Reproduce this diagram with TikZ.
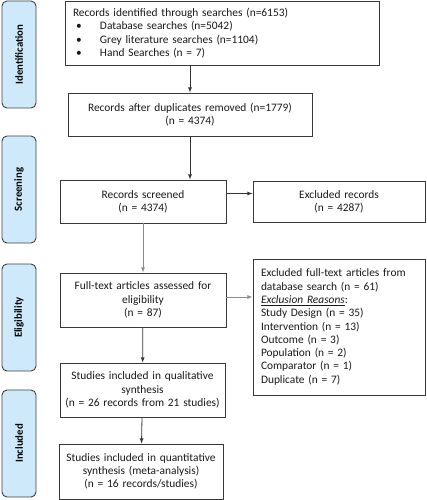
\documentclass[tikz,border=0pt]{standalone}
\usepackage{fontspec}
\setmainfont{Carlito}
\usetikzlibrary{positioning}
\definecolor{stagefill}{RGB}{205,233,250}
\tikzset{
  bx/.style={draw=black!78,line width=0.9pt,fill=white,align=center,inner xsep=4pt,inner ysep=2pt,text=black!90,font=\fontsize{11.4}{13.3}\selectfont},
  stage/.style={draw=black!75,line width=0.9pt,fill=stagefill,rounded corners=5pt,minimum width=107pt,minimum height=34pt,rotate=90,inner sep=0pt,font=\bfseries\fontsize{10.8}{12}\selectfont},
  ar/.style={->,>=latex,line width=0.8pt,draw=black!80},
  gar/.style={ar,draw=black!45}
}
\begin{document}
\begin{tikzpicture}[x=1pt,y=-1pt]
  \useasboundingbox (0,0) rectangle (427,500);
  \node[stage] (sI) at (19,54.5) {Identification};
  \node[stage] (sS) at (19,189.5) {Screening};
  \node[stage] (sE) at (19,317.5) {Eligibility};
  \node[stage] (sN) at (19,443.5) {Included};

  \node[bx,align=left,inner xsep=8pt,text width=298pt,minimum height=64pt] (b1) at (222,33) {Records identified through searches (n=6153)\\
    \hspace*{3pt}\makebox[24pt][l]{\textbullet}Database searches (n=5042)\\
    \hspace*{3pt}\makebox[24pt][l]{\textbullet}Grey literature searches (n=1104)\\
    \hspace*{3pt}\makebox[24pt][l]{\textbullet}Hand Searches (n = 7)};
  \node[bx,text width=236pt,minimum height=43pt] (b2) at (190,114.5) {Records after duplicates removed (n=1779)\\(n = 4374)};
  \node[bx,text width=158pt,minimum height=43pt] (b3) at (143,201.5) {Records screened\\(n = 4374)};
  \node[bx,text width=164pt,minimum height=41pt] (b4) at (339,201.5) {Excluded records\\(n = 4287)};
  \node[bx,text width=158pt,minimum height=54pt] (b5) at (143,300) {Full-text articles assessed for\\eligibility\\(n = 87)};
  \node[bx,align=left,inner xsep=8pt,text width=156pt,minimum height=136pt] (b6) at (339,327) {Excluded full-text articles from\\database search (n = 61)\\\underline{\textit{Exclusion Reasons}}:\\Study Design (n = 35)\\Intervention (n = 13)\\Outcome (n = 3)\\Population (n = 2)\\Comparator (n = 1)\\Duplicate (n = 7)};
  \node[bx,text width=157pt,minimum height=54pt] (b7) at (142.5,390) {Studies included in qualitative\\synthesis\\(n = 26 records from 21 studies)};
  \node[bx,text width=156pt,minimum height=55pt] (b8) at (141,471.5) {Studies included in quantitative\\synthesis (meta-analysis)\\(n = 16 records/studies)};

  \draw[ar] (b1.south -| b2) -- (b2);
  \draw[ar] (b2) -- (b2 |- b3.north);
  \draw[ar] ([yshift=8pt]b3.east) -- ([yshift=8pt]b4.west);
  \draw[gar] (b3) -- (b5);
  \draw[gar] ([yshift=3pt]b5.east) -- ([yshift=3pt]b5.east -| b6.west);
  \draw[ar] (b5) -- (b7);
  \draw[ar] (b7) -- (b8);
\end{tikzpicture}
\end{document}
